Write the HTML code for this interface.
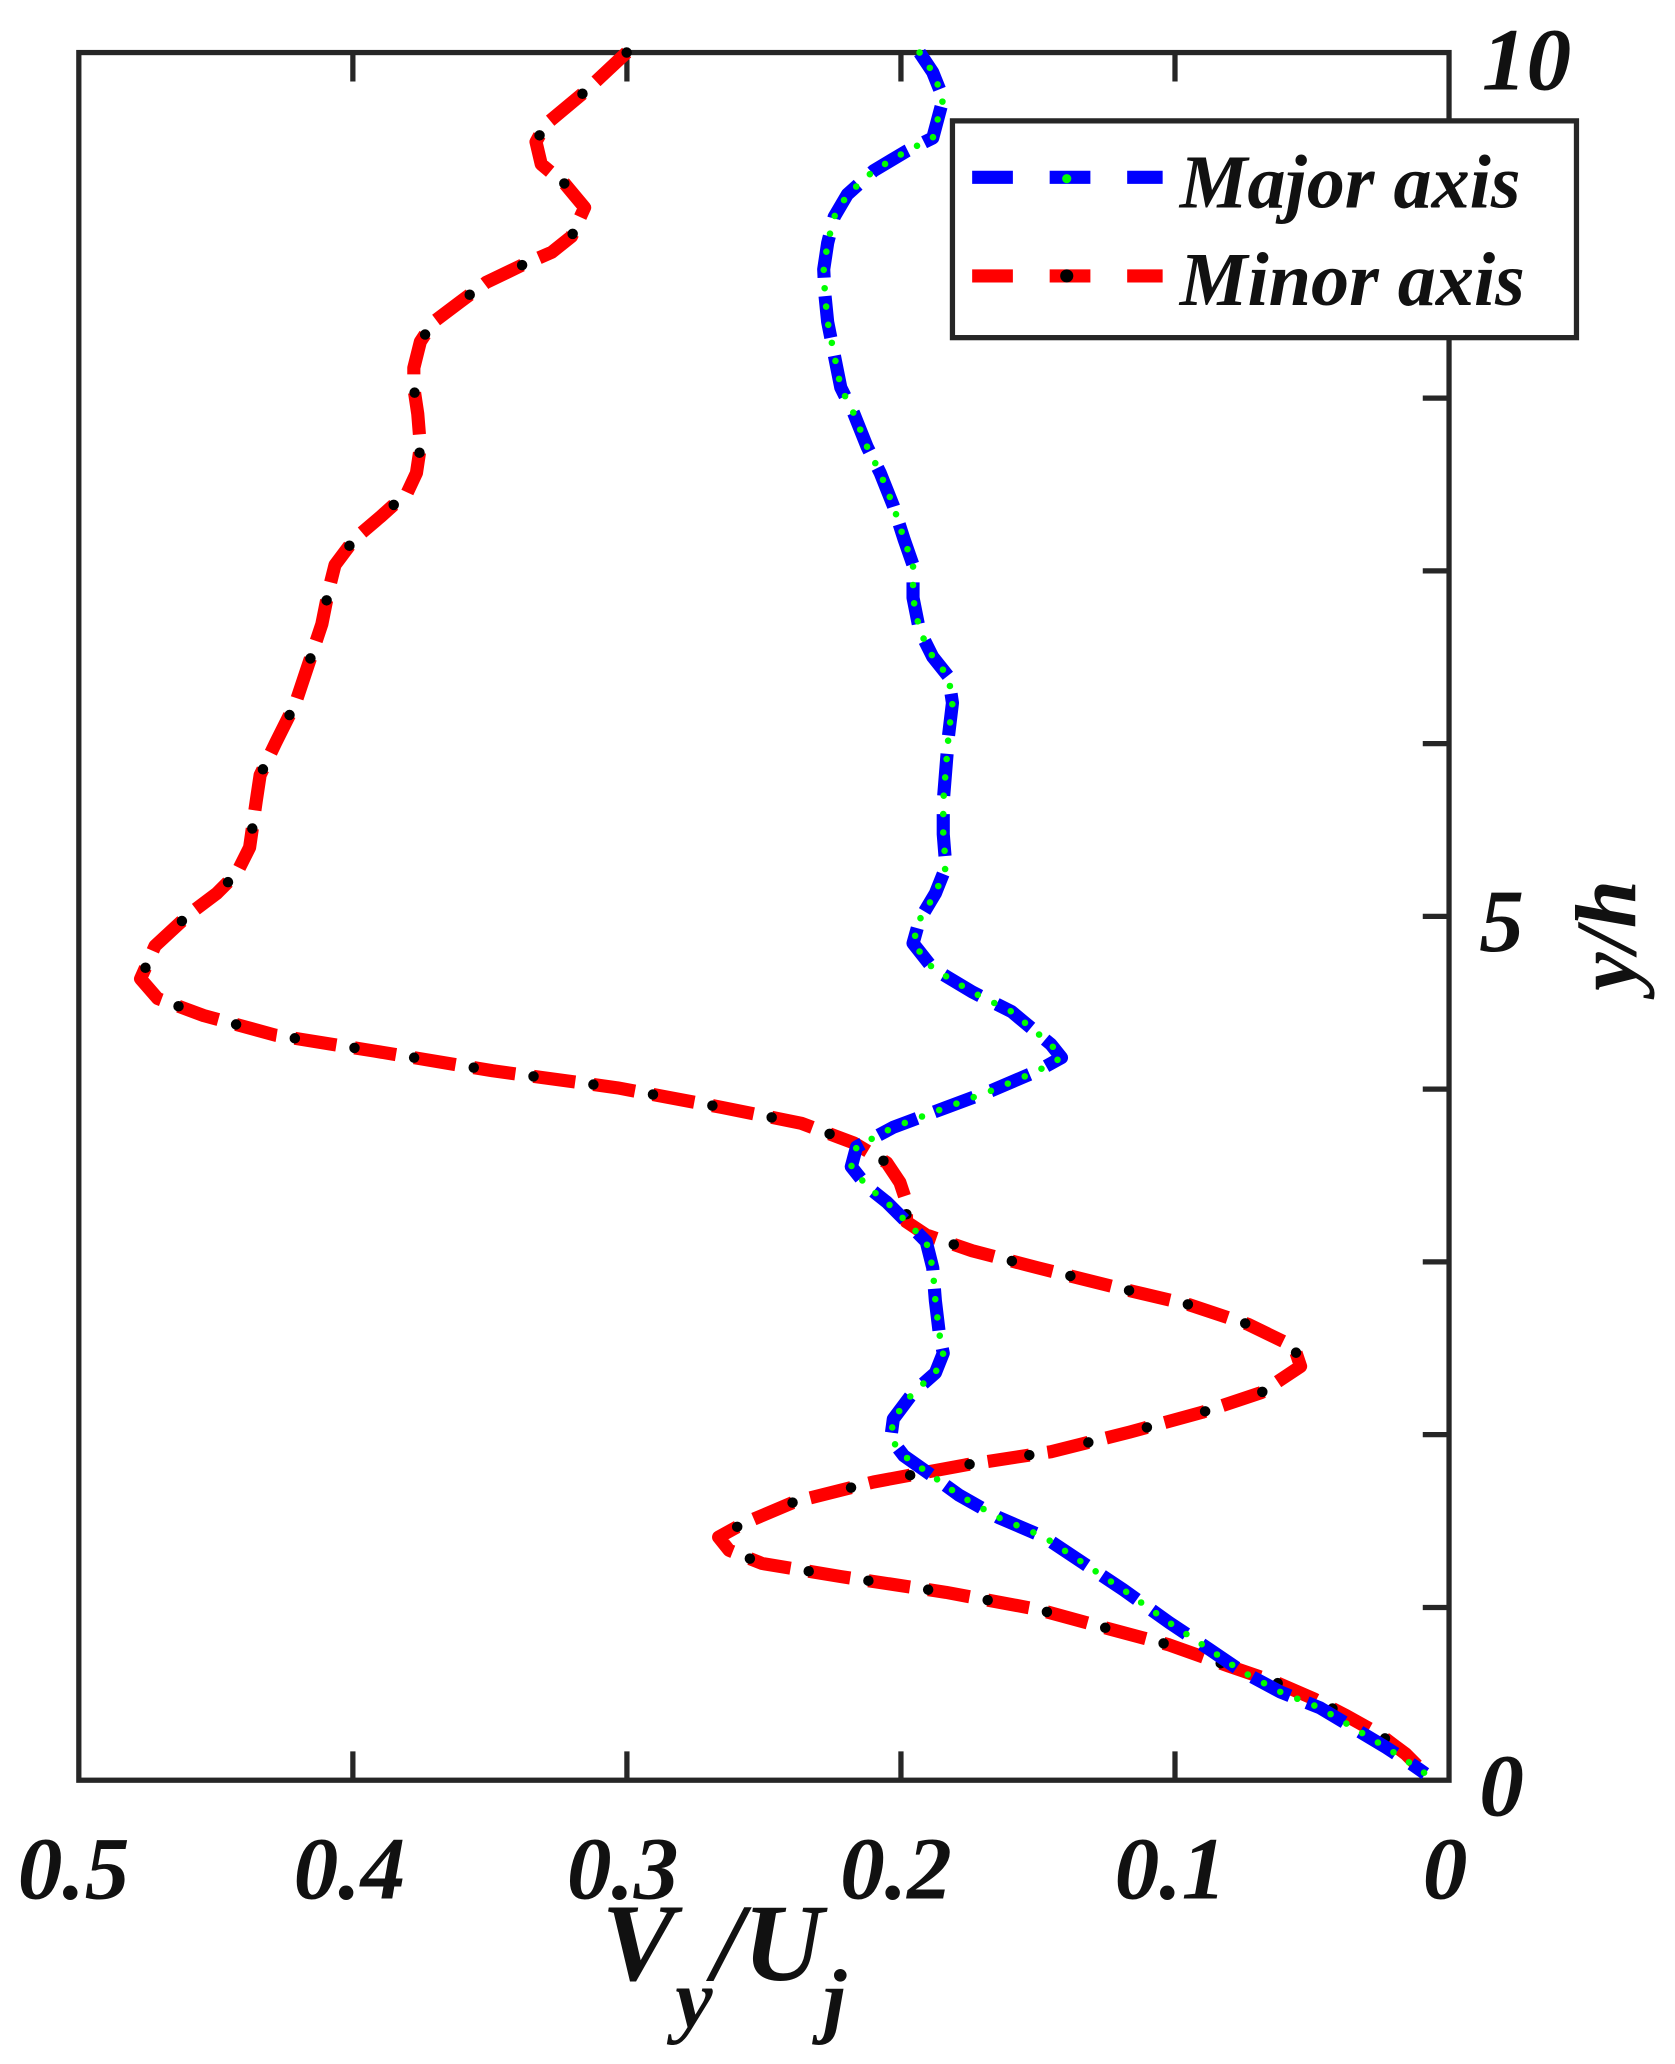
<!DOCTYPE html>
<html><head><meta charset="utf-8"><style>html,body{margin:0;padding:0;background:#fff}svg{display:block}</style></head>
<body>
<svg width="1675" height="2064" viewBox="0 0 1275 1571" preserveAspectRatio="none" xmlns="http://www.w3.org/2000/svg">
<rect width="1275" height="1571" fill="#fff"/>
<g stroke="#262626" stroke-width="4" fill="none">
<rect x="60" y="40" width="1043" height="1315"/>
<path d="M1103 171.5h-20M1103 303h-20M1103 434.5h-20M1103 566h-20M1103 697.5h-20M1103 829h-20M1103 960.5h-20M1103 1092h-20M1103 1223.5h-20"/>
<path d="M268.6 1355v-22M477.2 1355v-22M685.8 1355v-22M894.4 1355v-22M268.6 40v22M477.2 40v22M685.8 40v22M894.4 40v22"/>
</g>
<g font-family="Liberation Serif, serif" font-weight="bold" font-style="italic" font-size="68" fill="#111" text-anchor="middle">
<text x="56" y="1445">0.5</text><text x="266" y="1445">0.4</text><text x="474" y="1445">0.3</text><text x="682" y="1445">0.2</text><text x="891" y="1445">0.1</text><text x="1100" y="1445">0</text>
<text x="1162" y="68">10</text><text x="1143" y="724">5</text><text x="1143" y="1382">0</text>
<text transform="translate(1245,712) rotate(-90)" font-size="66">y/h</text>
</g>
<text x="458" y="1507" font-family="Liberation Serif, serif" font-weight="bold" font-style="italic" font-size="84" fill="#111">V<tspan font-size="64" dy="36">y</tspan><tspan dy="-36">/U</tspan><tspan font-size="64" dy="36">j</tspan></text>
<g fill="none" stroke-linejoin="round">
<polyline stroke="#f00" stroke-width="10" stroke-dasharray="32 14" points="477,40 445,70 415,95 408,108 412,125 430,140 445,158 435,180 420,192 397,202 370,215 350,230 330,245 320,260 315,280 315,295 318,315 320,340 317,360 310,375 290,393 270,410 255,430 250,450 245,475 235,505 225,535 210,565 198,590 195,610 190,645 180,665 165,680 145,695 118,720 107,745 120,760 155,773 210,788 285,800 375,815 470,828 550,843 610,855 650,870 675,885 685,900 690,915 690,930 705,940 740,952 790,965 850,980 905,993 950,1008 985,1025 990,1040 960,1060 915,1075 860,1090 800,1105 735,1115 665,1128 605,1143 565,1160 547,1170 555,1180 580,1190 640,1200 720,1212 790,1225 845,1240 890,1252 935,1268 970,1280 1000,1293 1025,1306 1050,1320 1070,1335 1085,1350"/>
<polyline stroke="#000" stroke-width="8" stroke-linecap="round" stroke-dasharray="0 46" points="477,40 445,70 415,95 408,108 412,125 430,140 445,158 435,180 420,192 397,202 370,215 350,230 330,245 320,260 315,280 315,295 318,315 320,340 317,360 310,375 290,393 270,410 255,430 250,450 245,475 235,505 225,535 210,565 198,590 195,610 190,645 180,665 165,680 145,695 118,720 107,745 120,760 155,773 210,788 285,800 375,815 470,828 550,843 610,855 650,870 675,885 685,900 690,915 690,930 705,940 740,952 790,965 850,980 905,993 950,1008 985,1025 990,1040 960,1060 915,1075 860,1090 800,1105 735,1115 665,1128 605,1143 565,1160 547,1170 555,1180 580,1190 640,1200 720,1212 790,1225 845,1240 890,1252 935,1268 970,1280 1000,1293 1025,1306 1050,1320 1070,1335 1085,1350"/>
<polyline stroke="#00f" stroke-width="10" stroke-dasharray="32 14" points="700,40 710,55 718,75 710,105 690,115 665,130 645,148 635,165 630,185 627,205 628,225 630,245 635,270 640,295 650,315 660,340 670,360 680,385 688,410 695,430 695,455 700,480 710,500 722,515 725,535 722,560 720,585 718,610 718,635 720,660 712,680 700,700 695,718 710,737 740,755 770,770 800,795 808,805 790,815 755,830 720,843 680,858 652,873 648,888 660,903 675,915 690,930 705,945 710,965 712,990 715,1015 718,1030 712,1045 695,1060 680,1080 678,1095 688,1108 705,1120 730,1138 760,1155 795,1170 825,1190 855,1210 890,1235 920,1255 945,1272 975,1288 1005,1300 1030,1315 1055,1330 1075,1343 1085,1350"/>
<polyline stroke="#0f0" stroke-width="5" stroke-linecap="round" stroke-dasharray="0 14" points="700,40 710,55 718,75 710,105 690,115 665,130 645,148 635,165 630,185 627,205 628,225 630,245 635,270 640,295 650,315 660,340 670,360 680,385 688,410 695,430 695,455 700,480 710,500 722,515 725,535 722,560 720,585 718,610 718,635 720,660 712,680 700,700 695,718 710,737 740,755 770,770 800,795 808,805 790,815 755,830 720,843 680,858 652,873 648,888 660,903 675,915 690,930 705,945 710,965 712,990 715,1015 718,1030 712,1045 695,1060 680,1080 678,1095 688,1108 705,1120 730,1138 760,1155 795,1170 825,1190 855,1210 890,1235 920,1255 945,1272 975,1288 1005,1300 1030,1315 1055,1330 1075,1343 1085,1350"/>
</g>
<rect x="725" y="92" width="475" height="165" fill="#fff" stroke="#262626" stroke-width="4"/>
<path d="M740 135h145" stroke="#00f" stroke-width="10" stroke-dasharray="31 28"/>
<circle cx="812" cy="136" r="3.5" fill="#0f0"/>
<path d="M740 210h145" stroke="#f00" stroke-width="10" stroke-dasharray="31 28"/>
<circle cx="812" cy="210" r="5" fill="#000"/>
<g font-family="Liberation Serif, serif" font-weight="bold" font-style="italic" font-size="58" fill="#111">
<text x="898" y="158">Major axis</text>
<text x="898" y="232">Minor axis</text>
</g>
</svg>
</body></html>
